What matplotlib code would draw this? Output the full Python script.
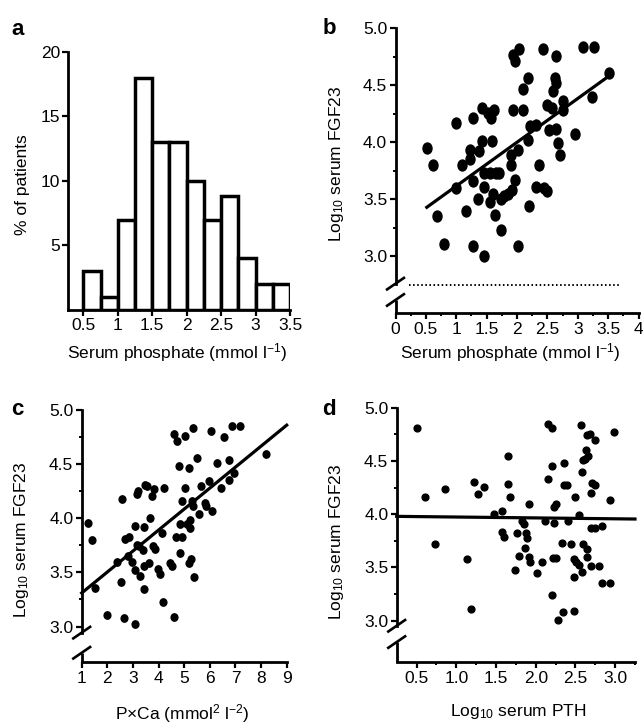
import numpy as np
import matplotlib
matplotlib.use('Agg')
import matplotlib.pyplot as plt
from matplotlib.markers import MarkerStyle
from matplotlib.transforms import Affine2D

plt.rcParams['font.family'] = ['Liberation Sans', 'DejaVu Sans']
plt.rcParams['font.size'] = 12.5
plt.rcParams['mathtext.fontset'] = 'custom'
plt.rcParams['mathtext.rm'] = 'Liberation Sans'
plt.rcParams['mathtext.it'] = 'Liberation Sans:italic'
plt.rcParams['mathtext.bf'] = 'Liberation Sans:bold'

# ---------------- data ----------------
# panel a: histogram of serum phosphate
hist_left = [0.5, 0.75, 1.0, 1.25, 1.5, 1.75, 2.0, 2.25, 2.5, 2.75, 3.0, 3.25]
hist_pct = [3, 1, 7, 18, 13, 13, 10, 7, 8.8, 4, 2, 2]
hist_xticks = [0.5, 1, 1.5, 2, 2.5, 3, 3.5]
hist_xticklabels = ['0.5', '1', '1.5', '2', '2.5', '3', '3.5']
hist_yticks = [5, 10, 15, 20]

# panel b: phosphate vs log10 FGF23
b_phos = [0.515, 0.625, 0.68, 0.805, 1.0, 1.0, 1.10, 1.16, 1.23, 1.23, 1.28, 1.27,
          1.27, 1.35, 1.38, 1.43, 1.43, 1.46, 1.46, 1.46, 1.52, 1.55, 1.55, 1.57,
          1.59, 1.60, 1.62, 1.64, 1.71, 1.74, 1.74, 1.79, 1.85, 1.90, 1.90, 1.92,
          1.93, 1.96, 1.97, 1.94, 2.01, 2.01, 2.04, 2.10, 2.10, 2.18, 2.18, 2.19,
          2.21, 2.31, 2.31, 2.36, 2.42, 2.45, 2.50, 2.50, 2.52, 2.58, 2.59, 2.63,
          2.64, 2.65, 2.65, 2.68, 2.71, 2.75, 2.75, 2.96, 3.24, 3.08, 3.27, 3.51,
          1.65]
b_fgf = [3.95, 3.80, 3.35, 3.11, 4.17, 3.60, 3.80, 3.40, 3.85, 3.93, 4.21, 3.66,
         3.09, 3.50, 3.92, 4.30, 4.01, 3.73, 3.61, 3.00, 4.26, 3.73, 3.48, 4.21,
         4.01, 3.55, 4.28, 3.36, 3.73, 3.23, 3.50, 3.53, 3.55, 3.89, 3.80, 3.58,
         4.77, 4.71, 3.67, 4.28, 3.93, 3.09, 4.82, 4.28, 4.47, 4.56, 4.02, 3.44,
         4.14, 4.15, 3.61, 3.80, 4.82, 3.60, 3.57, 4.33, 4.11, 4.30, 4.45, 4.56,
         4.76, 4.52, 4.12, 3.99, 3.89, 4.28, 4.36, 4.07, 4.40, 4.84, 4.84, 4.61,
         3.73]
b_fit_x = [0.515, 3.51]
b_fit_y = [3.43, 4.58]
b_lod_x = [0.23, 3.68]
b_lod_y = [2.75, 2.75]
b_xticks = [0, 0.5, 1, 1.5, 2, 2.5, 3, 3.5, 4]
b_xticklabels = ['0', '0.5', '1', '1.5', '2', '2.5', '3', '3.5', '4']

# panel c: PxCa vs log10 FGF23
c_pca = [1.26, 1.39, 1.52, 1.98, 2.37, 2.53, 2.57, 2.66, 2.70, 2.83, 2.96, 3.09,
         3.09, 3.09, 3.15, 3.18, 3.22, 3.28, 3.39, 3.42, 3.44, 3.44, 3.48, 3.55,
         3.61, 3.68, 3.74, 3.78, 3.83, 3.87, 3.96, 4.04, 4.13, 4.20, 4.17, 4.46,
         4.52, 4.59, 4.59, 4.72, 4.69, 4.79, 4.83, 4.83, 4.92, 4.92, 5.05, 5.05,
         5.11, 5.18, 5.18, 5.22, 5.24, 5.27, 5.31, 5.35, 5.35, 5.37, 5.48, 5.57,
         5.66, 5.83, 5.87, 5.96, 6.03, 6.09, 6.29, 6.44, 6.55, 6.74, 6.74, 6.87,
         6.94, 7.17, 8.18, 2.80, 3.15]
c_fgf = [3.96, 3.80, 3.36, 3.11, 3.60, 3.41, 4.18, 3.08, 3.81, 3.83, 3.60, 3.93,
         3.52, 3.02, 4.22, 4.25, 3.74, 3.47, 3.71, 3.35, 3.92, 3.56, 4.31, 4.30,
         3.59, 4.00, 4.21, 3.74, 4.27, 3.72, 3.53, 3.49, 3.86, 4.28, 3.23, 3.59,
         3.56, 3.09, 4.78, 4.71, 3.83, 4.48, 3.95, 3.68, 4.16, 3.83, 4.76, 4.28,
         3.95, 4.46, 3.59, 3.98, 3.91, 3.62, 4.16, 4.83, 4.11, 3.46, 4.56, 4.04,
         4.30, 4.14, 4.11, 4.34, 4.81, 4.07, 4.51, 4.28, 4.75, 4.54, 4.35, 4.85,
         4.42, 4.85, 4.59, 3.65, 3.75]
c_fit_x = [1.0, 9.0]
c_fit_y = [3.31, 4.86]
c_xticks = [1, 2, 3, 4, 5, 6, 7, 8, 9]

# panel d: log10 PTH vs log10 FGF23
d_pth = [0.50, 0.61, 0.73, 0.86, 1.13, 1.18, 1.22, 1.27, 1.35, 1.47, 1.57, 1.58,
         1.60, 1.65, 1.65, 1.68, 1.74, 1.77, 1.79, 1.83, 1.85, 1.87, 1.88, 1.89,
         1.91, 1.92, 1.93, 2.01, 2.08, 2.12, 2.15, 2.16, 2.20, 2.21, 2.21, 2.23,
         2.23, 2.25, 2.22, 2.25, 2.28, 2.33, 2.35, 2.34, 2.36, 2.39, 2.41, 2.45,
         2.48, 2.49, 2.48, 2.48, 2.51, 2.54, 2.55, 2.57, 2.58, 2.58, 2.59, 2.59,
         2.62, 2.63, 2.64, 2.65, 2.65, 2.66, 2.68, 2.69, 2.69, 2.69, 2.71, 2.75,
         2.75, 2.75, 2.80, 2.84, 2.84, 2.93, 2.94, 2.99]
d_fgf = [4.81, 4.16, 3.72, 4.24, 3.58, 3.11, 4.30, 4.19, 4.26, 4.00, 4.03, 3.83,
         3.79, 4.55, 4.28, 4.16, 3.48, 3.82, 3.61, 3.94, 3.91, 3.68, 3.82, 3.78,
         4.10, 3.60, 3.55, 3.45, 3.55, 3.94, 4.85, 4.33, 4.81, 4.45, 3.24, 3.92,
         4.07, 4.10, 3.59, 3.59, 3.01, 3.73, 4.48, 3.08, 4.27, 4.27, 3.94, 3.72,
         3.58, 4.16, 3.41, 3.09, 3.55, 3.52, 3.99, 4.84, 4.40, 3.46, 3.72, 4.51,
         4.52, 4.60, 4.74, 3.67, 3.60, 4.55, 4.75, 3.87, 3.51, 4.20, 4.29, 4.27,
         4.70, 3.87, 3.51, 3.89, 3.35, 3.35, 4.13, 4.77]
d_fit_x = [0.25, 3.25]
d_fit_y = [3.98, 3.955]
d_xticks = [0.5, 1.0, 1.5, 2.0, 2.5, 3.0]
d_xticklabels = ['0.5', '1.0', '1.5', '2.0', '2.5', '3.0']

fgf_yticks = [3.0, 3.5, 4.0, 4.5, 5.0]
fgf_yticklabels = ['3.0', '3.5', '4.0', '4.5', '5.0']
fgf_yminor = [3.25, 3.75, 4.25, 4.75]

# ---------------- figure ----------------
W, H = 643, 726
fig = plt.figure(figsize=(W / 100, H / 100), dpi=100)
FS = 12.5


def add_ax(left, top, right, bottom):
    return fig.add_axes([left / W, 1 - bottom / H, (right - left) / W, (bottom - top) / H])


def ftext(x, y, s, **kw):
    fig.text(x / W, 1 - y / H, s, **kw)


SPINE_LW = 2.0


def style(ax):
    for s in ['top', 'right']:
        ax.spines[s].set_visible(False)
    for s in ['left', 'bottom']:
        ax.spines[s].set_linewidth(SPINE_LW)
        ax.spines[s].set_capstyle('projecting')
    ax.tick_params(which='major', direction='out', length=4.5, width=1.6, pad=1.5,
                   labelsize=FS)
    ax.tick_params(which='minor', direction='out', length=2.5, width=1.4)
    ax.patch.set_alpha(0)


def draw_break(ax, y_hi, y_lo):
    ax.spines['left'].set_bounds(y_hi, ax.get_ylim()[1])
    x0 = ax.get_xlim()[0]
    yb = ax.get_ylim()[0]
    ax.plot([x0, x0], [yb, y_lo], color='k', lw=SPINE_LW, clip_on=False,
            solid_capstyle='butt')
    inv = ax.transData.inverted()
    for yc in (y_hi, y_lo):
        px, py = ax.transData.transform((x0, yc))
        p1 = inv.transform((px - 9.5, py - 6.5))
        p2 = inv.transform((px + 9.5, py + 6.5))
        ax.plot([p1[0], p2[0]], [p1[1], p2[1]], color='k', lw=1.9,
                clip_on=False, solid_capstyle='butt')


# ---- panel a ----
axa = add_ax(68.3, 51.7, 290, 310)
style(axa)
axa.bar(hist_left, hist_pct, width=0.25, align='edge', facecolor='white',
        edgecolor='black', linewidth=2.5, zorder=3)
axa.set_xlim(0.282, 3.5)
axa.set_ylim(0, 20)
axa.set_xticks(hist_xticks)
axa.set_xticklabels(hist_xticklabels)
axa.set_yticks(hist_yticks)

# ---- panel b ----
axb = add_ax(395.5, 28.3, 638.5, 313.3)
style(axb)
axb.set_xlim(0, 4)
axb.set_ylim(2.5, 5.0)
ell_b = MarkerStyle('o', transform=Affine2D().scale(0.82, 1.0))
axb.plot(b_phos, b_fgf, linestyle='none', marker=ell_b, markersize=7.9,
         color='black', zorder=3)
axb.plot(b_fit_x, b_fit_y, color='black', lw=2.3, zorder=4)
axb.plot(b_lod_x, b_lod_y, color='black', lw=1.4, linestyle=(0, (0.8, 1.3)))
axb.set_xticks(b_xticks)
axb.set_xticklabels(b_xticklabels)
axb.set_xticks(np.arange(0.25, 4, 0.5), minor=True)
axb.set_yticks(fgf_yticks)
axb.set_yticklabels(fgf_yticklabels)
axb.set_yticks(fgf_yminor, minor=True)
draw_break(axb, 2.76, 2.617)

# ---- panel c ----
axc = add_ax(81.7, 410, 286.7, 662.3)
style(axc)
axc.set_xlim(1, 9)
axc.set_ylim(2.67, 5.0)
ell_c = MarkerStyle('o', transform=Affine2D().scale(0.92, 1.0))
axc.plot(c_pca, c_fgf, linestyle='none', marker=ell_c, markersize=5.3,
         color='black', zorder=3)
axc.plot(c_fit_x, c_fit_y, color='black', lw=2.3, zorder=4, clip_on=False)
axc.set_xticks(c_xticks)
axc.set_yticks(fgf_yticks)
axc.set_yticklabels(fgf_yticklabels)
axc.set_yticks(fgf_yminor, minor=True)
draw_break(axc, 2.944, 2.758)

# ---- panel d ----
axd = add_ax(396.7, 407.7, 635, 662.3)
style(axd)
axd.set_xlim(0.25, 3.25)
axd.set_ylim(2.61, 5.0)
axd.plot(d_pth, d_fgf, linestyle='none', marker='o', markersize=4.9,
         color='black', zorder=3)
axd.plot(d_fit_x, d_fit_y, color='black', lw=2.3, zorder=4, clip_on=False)
axd.set_xticks(d_xticks)
axd.set_xticklabels(d_xticklabels)
axd.set_xticks(np.arange(0.75, 3.3, 0.5), minor=True)
axd.set_yticks(fgf_yticks)
axd.set_yticklabels(fgf_yticklabels)
axd.set_yticks(fgf_yminor, minor=True)
draw_break(axd, 2.953, 2.80)

# ---- labels ----
phos_label = r'Serum phosphate (mmol l$^{\mathregular{-1}}$)'
fgf_label = r'Log$_{\mathregular{10}}$ serum FGF23'
ftext(177, 358, phos_label, ha='center', va='baseline', fontsize=FS)
ftext(510, 358, phos_label, ha='center', va='baseline', fontsize=FS)
ftext(182, 719, r'P$\times$Ca (mmol$^{\mathregular{2}}$ l$^{\mathregular{-2}}$)',
      ha='center', va='baseline', fontsize=FS)
ftext(518, 716, r'Log$_{\mathregular{10}}$ serum PTH', ha='center', va='baseline',
      fontsize=FS)
ftext(23, 185, '% of patients', rotation=90, ha='center', va='center', fontsize=FS)
ftext(337, 164, fgf_label, rotation=90, ha='center', va='center', fontsize=FS)
ftext(22, 540, fgf_label, rotation=90, ha='center', va='center', fontsize=FS)
ftext(337, 542, fgf_label, rotation=90, ha='center', va='center', fontsize=FS)

for x, y, s in [(11, 35, 'a'), (323, 34, 'b'), (11, 415, 'c'), (322, 415, 'd')]:
    ftext(x, y, s, ha='left', va='baseline', fontsize=16, fontweight='bold')

fig.savefig('out.png', dpi=100, facecolor='white')
